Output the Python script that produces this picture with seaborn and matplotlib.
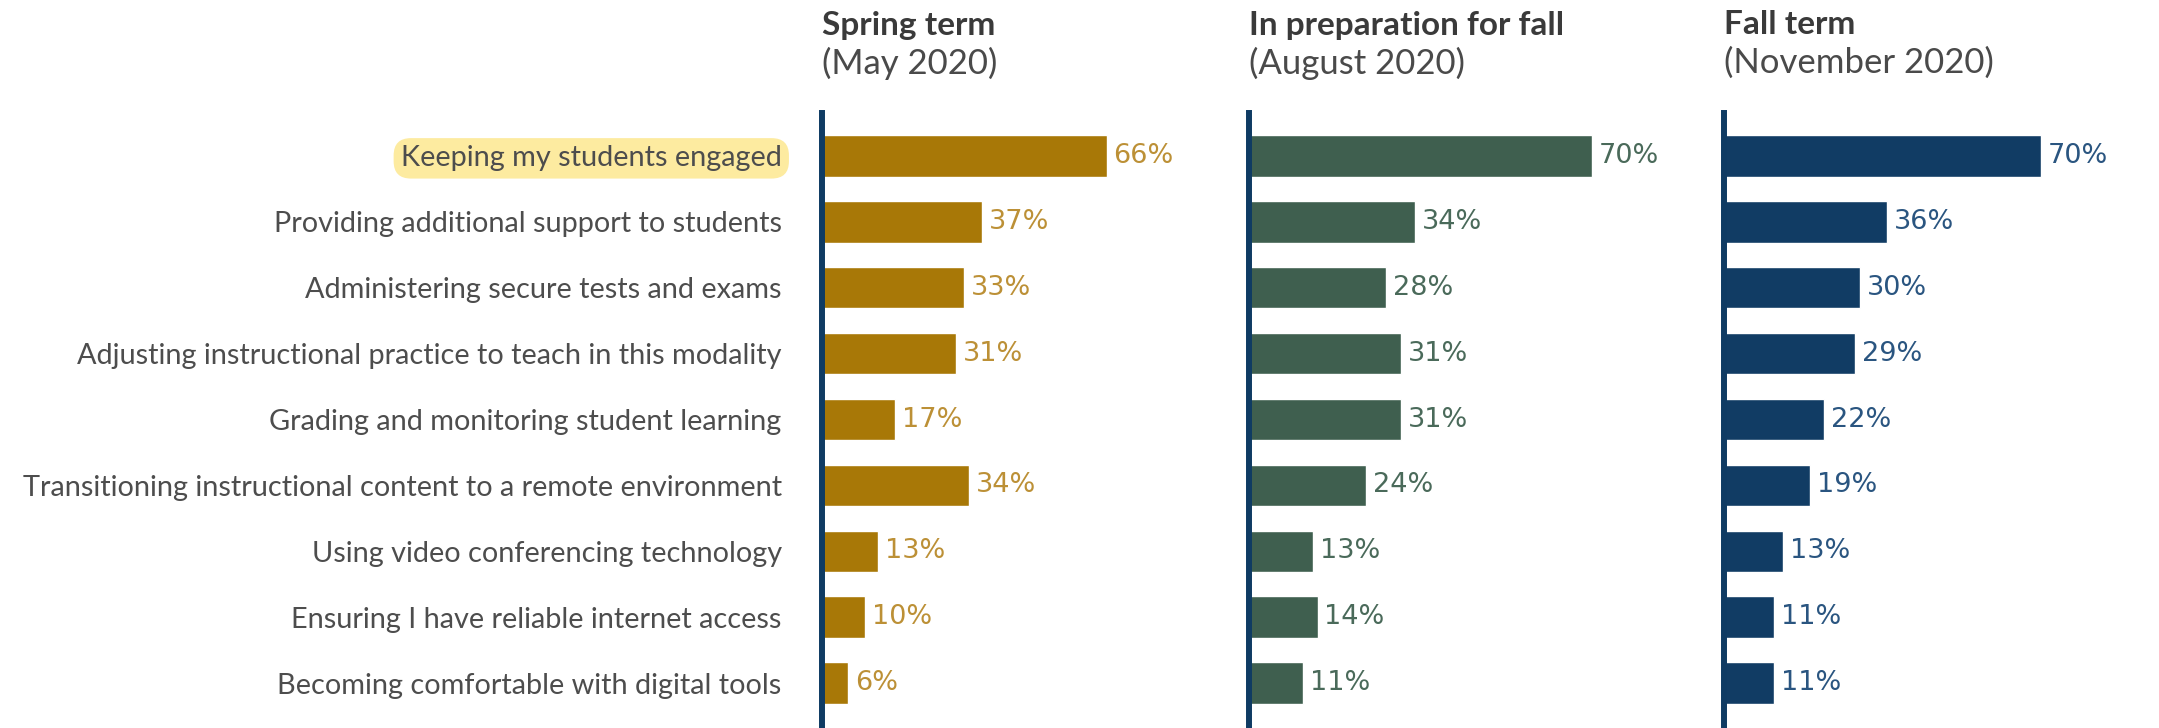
import numpy as np
import pandas as pd
import matplotlib
matplotlib.use('Agg')
import matplotlib.pyplot as plt
import seaborn as sns

# Survey items (top to bottom)
items = [
    'Keeping my students engaged',
    'Providing additional support to students',
    'Administering secure tests and exams',
    'Adjusting instructional practice to teach in this modality',
    'Grading and monitoring student learning',
    'Transitioning instructional content to a remote environment',
    'Using video conferencing technology',
    'Ensuring I have reliable internet access',
    'Becoming comfortable with digital tools',
]
spring = [66, 37, 33, 31, 17, 34, 13, 10, 6]
august = [70, 34, 28, 31, 31, 24, 13, 14, 11]
november = [70, 36, 30, 29, 22, 19, 13, 11, 11]

titles = ['Spring term', 'In preparation for fall', 'Fall term']
subtitles = ['(May 2020)', '(August 2020)', '(November 2020)']

df = pd.DataFrame({'item': items, 'spring': spring,
                   'august': august, 'november': november})

sns.set_theme(style='white')
plt.rcParams['font.family'] = ['Lato', 'DejaVu Sans']

W, H = 2159, 728
fig = plt.figure(figsize=(W / 100, H / 100), dpi=100)

navy_axis = '#0F3B63'
bar_colors = ['#A87807', '#3F5F4F', '#113C64']
label_colors = ['#BC9036', '#4A6A5A', '#2A5580']
lefts = [822, 1249, 1724]
widths = [358, 411, 435]
xmaxes = [83, 84, 96]
cols = ['spring', 'august', 'november']

top_px = 113
for i, col in enumerate(cols):
    ax = fig.add_axes([lefts[i] / W, 0, widths[i] / W, (H - top_px) / H])
    sns.barplot(data=df, x=col, y='item', ax=ax, color=bar_colors[i],
                saturation=1, width=0.63, errorbar=None, orient='h')
    ax.set_xlim(0, xmaxes[i])
    ax.set_ylim(8.68, -0.65)
    ax.set_xlabel('')
    ax.set_ylabel('')
    ax.set_xticks([])
    for s in ['top', 'right', 'bottom']:
        ax.spines[s].set_visible(False)
    ax.spines['left'].set_color(navy_axis)
    ax.spines['left'].set_linewidth(4.3)
    ax.spines['left'].set_zorder(5)
    ax.bar_label(ax.containers[0], labels=[f'{v}%' for v in df[col]],
                 padding=5, color=label_colors[i], fontsize=19.5,
                 fontfamily='DejaVu Sans')
    if i == 0:
        ax.tick_params(axis='y', length=0, pad=29, labelsize=20.8,
                       labelcolor='#4D4D4D')
        hl = ax.get_yticklabels()[0]
        hl.set_bbox(dict(boxstyle='round,pad=0.25,rounding_size=0.6',
                         fc='#FDEBA0', ec='none'))
    else:
        ax.set_yticks([])

    fig.text(lefts[i] / W, 1 - 25 / H, titles[i], fontsize=24,
             fontweight='bold', color='#3A3A3A', va='center', ha='left')
    fig.text(lefts[i] / W, 1 - 63 / H, subtitles[i], fontsize=25,
             color='#4A4A4A', va='center', ha='left')

fig.savefig('out.png', dpi=100)
plt.close()
